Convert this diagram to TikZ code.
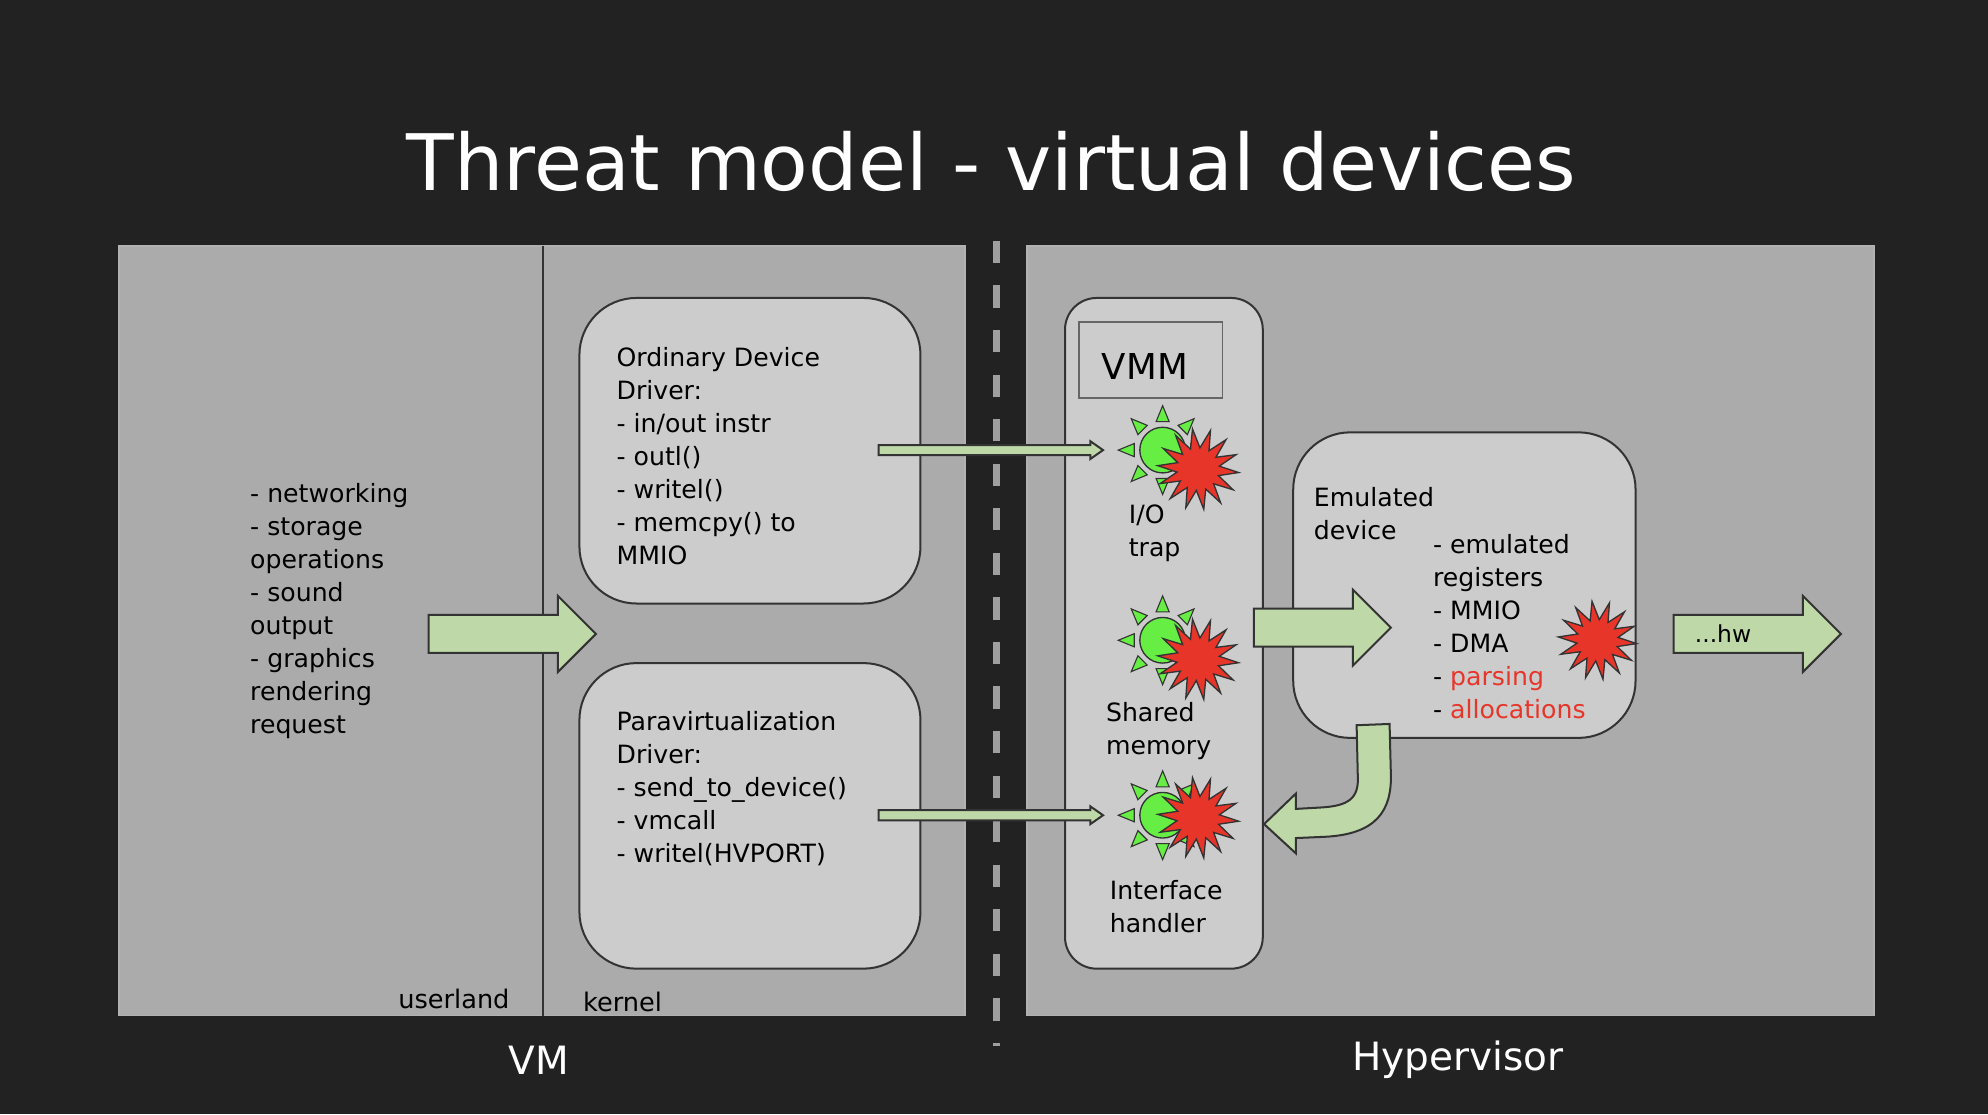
\documentclass[tikz,border=0pt]{standalone}
\usepackage{fontspec}
\setmainfont{DejaVu Sans}
\usetikzlibrary{shapes.geometric,calc}
\definecolor{slidebg}{HTML}{222222}
\definecolor{panel}{HTML}{ABABAB}
\definecolor{boxfill}{HTML}{CCCCCC}
\definecolor{arrowgreen}{HTML}{BFD8A8}
\definecolor{sungreen}{HTML}{66EE44}
\definecolor{burst}{HTML}{E8352A}
\definecolor{edge}{HTML}{333333}
\tikzset{
  panelbox/.style={fill=panel, draw=gray!60, line width=0.8pt},
  devbox/.style={fill=boxfill, draw=edge, line width=0.9pt, rounded corners=0.9cm},
  listtext/.style={align=left, anchor=north west, font=\fontsize{11.3}{14.8}\selectfont, inner sep=0pt},
  bigarrow/.style={fill=arrowgreen, draw=edge, line width=0.9pt},
  caption/.style={text=white, font=\fontsize{17.5}{20}\selectfont},
}
% block arrow: x1, x2, y centre, half body, half head, head length
\newcommand{\blockarrow}[6]{%
  \draw[bigarrow] (#1,#3-#4) -- (#2-#6,#3-#4) -- (#2-#6,#3-#5) -- (#2,#3)
    -- (#2-#6,#3+#5) -- (#2-#6,#3+#4) -- (#1,#3+#4) -- cycle;}
% green sun
\newcommand{\sun}[2]{%
  \foreach \a in {0,45,...,315}
    \draw[fill=sungreen, draw=edge, line width=0.5pt]
      ($(#1,#2)+(\a-13:23)$) -- ($(#1,#2)+(\a:35)$) -- ($(#1,#2)+(\a+13:23)$) -- cycle;
  \draw[fill=sungreen, draw=edge, line width=0.6pt] (#1,#2) circle (18);}
% red burst
\newcommand{\redburst}[3]{%
  \node[star, star points=14, star point ratio=1.9, minimum size=#3*0.02cm,
    fill=burst, draw=edge, line width=0.6pt, inner sep=0pt, rotate=8] at (#1,#2) {};}
\begin{document}
\begin{tikzpicture}[x=0.02cm, y=-0.02cm]

  % background
  \fill[slidebg] (0,0) rectangle (1568,879);
  \useasboundingbox (0,0) rectangle (1568,879);

  % title
  \node[text=white, font=\fontsize{35}{40}\selectfont] (title) at (782,127) {Threat model - virtual devices};

  % panels
  \draw[panelbox] (94,194) rectangle (761,801);
  \draw[panelbox] (810,194) rectangle (1478,801);
  \draw[edge, line width=0.8pt] (428,194) -- (428,801);
  \draw[gray!75, line width=3pt, dash pattern=on 10pt off 10pt] (786,190) -- (786,825);

  % userland
  \node[listtext] (uses) at (197,381) {- networking\\- storage\\operations\\- sound\\output\\- graphics\\rendering\\request};
  \blockarrow{338}{470}{500}{15}{30}{30}

  % drivers
  \draw[devbox] (457,235) rectangle (726,476);
  \node[listtext] (ordinary) at (486,274) {Ordinary Device\\Driver:\\- in/out instr\\- outl()\\- writel()\\- memcpy() to\\MMIO};
  \draw[devbox] (457,523) rectangle (726,764);
  \node[listtext] (paravirt) at (486,561) {Paravirtualization\\Driver:\\- send\_to\_device()\\- vmcall\\- writel(HVPORT)};

  % VMM
  \draw[devbox, rounded corners=0.5cm] (840,235) rectangle (996,764);
  \draw[fill=boxfill, draw=gray!80!black, line width=0.6pt] (851,254) rectangle (964,314);
  \node[font=\fontsize{16}{18}\selectfont] (vmm) at (903,289) {VMM};
  \blockarrow{693}{870}{355}{4}{7}{10}
  \blockarrow{693}{870}{643}{4}{7}{10}

  \sun{917}{355} \redburst{945}{370}{64}
  \sun{917}{505} \redburst{945}{520}{64}
  \sun{917}{643} \redburst{945}{645}{64}
  \node[listtext] (iotrap) at (890,398) {I/O\\trap};
  \node[listtext] (shmem) at (872,554) {Shared\\memory};
  \node[listtext] (iface) at (875,694) {Interface\\handler};

  % emulated device
  \draw[devbox] (1020,341) rectangle (1290,582);
  \node[listtext] (emudev) at (1036,384) {Emulated\\device};
  \node[listtext] (emulist) at (1130,421) {- emulated\\registers\\- MMIO\\- DMA\\- \textcolor{burst}{parsing}\\- \textcolor{burst}{allocations}};
  \redburst{1260}{505}{62}
  \blockarrow{989}{1097}{495}{15}{30}{30}

  % return arrow
  \draw[bigarrow] (1070,572) -- (1071,615) .. controls (1071,632) and (1060,636) .. (1040,637)
    -- (1022,638) -- (1022,626) -- (997,650) -- (1022,673) -- (1022,661) -- (1045,660)
    .. controls (1085,658) and (1098,640) .. (1097,610) -- (1096,571) -- cycle;

  % to hardware
  \blockarrow{1320}{1452}{500}{15}{30}{30}
  \node[font=\fontsize{10.5}{12}\selectfont] (hw) at (1359,500) {...hw};

  % labels
  \node[font=\fontsize{11.5}{13}\selectfont] (userland) at (358,788) {userland};
  \node[font=\fontsize{11.5}{13}\selectfont] (kernel) at (491,790) {kernel};
  \node[caption] (vm) at (425,836) {VM};
  \node[caption] (hyper) at (1150,836) {Hypervisor};

\end{tikzpicture}
\end{document}
